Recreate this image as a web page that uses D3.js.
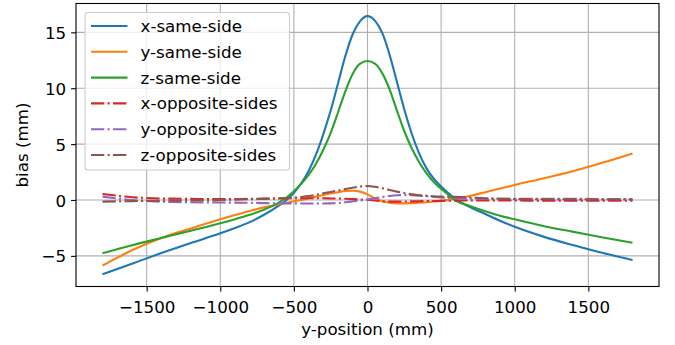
<!DOCTYPE html>
<html>
<head>
<meta charset="utf-8">
<script src="https://cdn.jsdelivr.net/npm/d3@7"></script>
<style>
  body { margin: 0; background: #fff; }
  text { font-family: "DejaVu Sans", sans-serif; }
</style>
</head>
<body>
<div id="chart"></div>
<script>
// y-position samples (mm)
var xs = [-1800, -1600, -1400, -1200, -1000, -900, -800, -700, -600, -550, -500, -450, -400, -350,
          -300, -250, -200, -150, -100, -50, 0, 50, 100, 150, 200, 250, 300, 350, 400, 450,
          500, 550, 600, 700, 800, 900, 1000, 1200, 1400, 1600, 1800];

var xSame = [-6.65, -5.7, -4.75, -3.85, -2.98, -2.5, -1.98, -1.3, -0.48, 0.0, 0.65, 1.5, 2.6, 4.05,
             5.9, 8.0, 10.45, 12.9, 14.85, 16.0, 16.45, 16.05, 14.95, 13.0, 10.55, 8.1, 5.95, 4.2, 2.85, 1.9,
             1.2, 0.6, 0.05, -0.65, -1.25, -1.85, -2.4, -3.3, -4.05, -4.75, -5.37];
var ySame = [-5.87, -4.5, -3.4, -2.55, -1.73, -1.35, -0.98, -0.65, -0.38, -0.25, -0.12, 0.0, 0.15, 0.3,
             0.45, 0.58, 0.7, 0.8, 0.83, 0.75, 0.5, 0.15, -0.12, -0.25, -0.3, -0.3, -0.28, -0.24, -0.2, -0.14,
             -0.08, 0.02, 0.12, 0.38, 0.7, 1.02, 1.35, 1.95, 2.6, 3.35, 4.17];
var zSame = [-4.77, -4.05, -3.4, -2.75, -2.09, -1.72, -1.32, -0.85, -0.22, 0.22, 0.78, 1.45, 2.25, 3.25,
             4.5, 6.0, 7.85, 9.75, 11.3, 12.2, 12.43, 12.2, 11.35, 9.9, 8.0, 6.15, 4.65, 3.4, 2.4, 1.6,
             1.0, 0.45, -0.05, -0.55, -1.0, -1.4, -1.73, -2.35, -2.85, -3.35, -3.82];
var xOpp = [0.54, 0.25, 0.13, 0.1, 0.08, 0.09, 0.1, 0.12, 0.14, 0.15, 0.15, 0.15, 0.15, 0.15,
            0.15, 0.14, 0.13, 0.11, 0.08, 0.05, 0.02, -0.05, -0.12, -0.15, -0.15, -0.14, -0.12, -0.11, -0.1, -0.09,
            -0.08, -0.07, -0.06, -0.05, -0.05, -0.05, -0.05, -0.06, -0.06, -0.06, -0.06];
var yOpp = [0.3, 0.0, -0.15, -0.2, -0.22, -0.24, -0.25, -0.28, -0.3, -0.3, -0.3, -0.31, -0.32, -0.32,
            -0.32, -0.3, -0.27, -0.2, -0.12, -0.04, 0.05, 0.15, 0.25, 0.35, 0.42, 0.44, 0.42, 0.38, 0.33, 0.27,
            0.22, 0.18, 0.15, 0.12, 0.1, 0.1, 0.1, 0.1, 0.1, 0.09, 0.08];
var zOpp = [-0.15, -0.1, -0.06, -0.03, 0.0, 0.03, 0.07, 0.1, 0.15, 0.17, 0.2, 0.27, 0.35, 0.47,
            0.6, 0.72, 0.85, 0.98, 1.1, 1.2, 1.25, 1.18, 1.05, 0.9, 0.75, 0.62, 0.5, 0.43, 0.38, 0.33,
            0.3, 0.29, 0.28, 0.22, 0.15, 0.11, 0.08, 0.06, 0.05, 0.05, 0.05];

var names = ['x-same-side', 'y-same-side', 'z-same-side', 'x-opposite-sides', 'y-opposite-sides', 'z-opposite-sides'];
var colors = ['#1f77b4', '#ff7f0e', '#2ca02c', '#d62728', '#9467bd', '#8c564b'];
var dashed = [false, false, false, true, true, true];
var seriesVals = [xSame, ySame, zSame, xOpp, yOpp, zOpp];

var xTicks = [-1500, -1000, -500, 0, 500, 1000, 1500];
var yTicks = [-5, 0, 5, 10, 15];

var W = 675, H = 345;
var m = {left: 76, top: 3.5, right: 16, bottom: 58.5};
var iw = W - m.left - m.right, ih = H - m.top - m.bottom;
var fs = 16.7;

var svg = d3.select('#chart').append('svg')
    .attr('width', W)
    .attr('height', H);

var x = d3.scaleLinear().domain([-1980, 1980]).range([0, iw]);
var y = d3.scaleLinear().domain([-7.74, 17.58]).range([ih, 0]);

var g = svg.append('g').attr('transform', 'translate(' + m.left + ',' + m.top + ')');

// grid
g.append('g').selectAll('line').data(xTicks).enter().append('line')
    .attr('x1', function(d){ return x(d); }).attr('x2', function(d){ return x(d); })
    .attr('y1', 0).attr('y2', ih)
    .attr('stroke', '#b0b0b0').attr('stroke-width', 1.1);
g.append('g').selectAll('line').data(yTicks).enter().append('line')
    .attr('y1', function(d){ return y(d); }).attr('y2', function(d){ return y(d); })
    .attr('x1', 0).attr('x2', iw)
    .attr('stroke', '#b0b0b0').attr('stroke-width', 1.1);

// lines
var line = d3.line()
    .x(function(d){ return x(d[0]); })
    .y(function(d){ return y(d[1]); })
    .curve(d3.curveMonotoneX);

var dash = '13.3,3.3,2.1,3.3';

seriesVals.forEach(function(vals, i){
    g.append('path')
        .datum(xs.map(function(v, k){ return [v, vals[k]]; }))
        .attr('d', line)
        .attr('fill', 'none')
        .attr('stroke', colors[i])
        .attr('stroke-width', 2.1)
        .attr('stroke-dasharray', dashed[i] ? dash : null);
});

// axes
var fmt = function(d){ return d < 0 ? '\u2212' + Math.abs(d) : '' + d; };
var xAxis = g.append('g').attr('transform', 'translate(0,' + ih + ')')
    .call(d3.axisBottom(x).tickValues(xTicks).tickSize(4.9).tickPadding(5).tickFormat(fmt));
var yAxis = g.append('g')
    .call(d3.axisLeft(y).tickValues(yTicks).tickSize(4.9).tickPadding(5).tickFormat(fmt));
[xAxis, yAxis].forEach(function(a){
    a.select('.domain').remove();
    a.selectAll('line').attr('stroke', '#000').attr('stroke-width', 1.1);
    a.selectAll('text').attr('font-size', fs).attr('fill', '#000')
        .style('font-family', '"DejaVu Sans", sans-serif');
});
xAxis.selectAll('text').attr('dy', null).attr('y', 26.5);
yAxis.selectAll('text').attr('dy', '0.36em');

// frame
g.append('rect').attr('width', iw).attr('height', ih)
    .attr('fill', 'none').attr('stroke', '#000').attr('stroke-width', 1.1);

// axis labels
svg.append('text')
    .attr('x', m.left + iw / 2).attr('y', 335)
    .attr('text-anchor', 'middle').attr('font-size', fs)
    .text('y-position (mm)');
svg.append('text')
    .attr('transform', 'translate(28,' + (m.top + ih / 2) + ') rotate(-90)')
    .attr('text-anchor', 'middle').attr('font-size', fs)
    .text('bias (mm)');

// legend
var leg = svg.append('g');
leg.append('rect')
    .attr('x', 85).attr('y', 12.5).attr('width', 204.5).attr('height', 157.5)
    .attr('rx', 3).attr('fill', '#fff').attr('fill-opacity', 0.8)
    .attr('stroke', '#cccccc').attr('stroke-width', 1.1);
names.forEach(function(n, i){
    var ly = 26 + i * 25.8;
    leg.append('line')
        .attr('x1', 91).attr('x2', 127.5).attr('y1', ly).attr('y2', ly)
        .attr('stroke', colors[i]).attr('stroke-width', 2.1)
        .attr('stroke-dasharray', dashed[i] ? dash : null);
    leg.append('text')
        .attr('x', 140.5).attr('y', ly).attr('dy', '0.36em')
        .attr('font-size', fs)
        .text(n);
});
</script>
</body>
</html>
